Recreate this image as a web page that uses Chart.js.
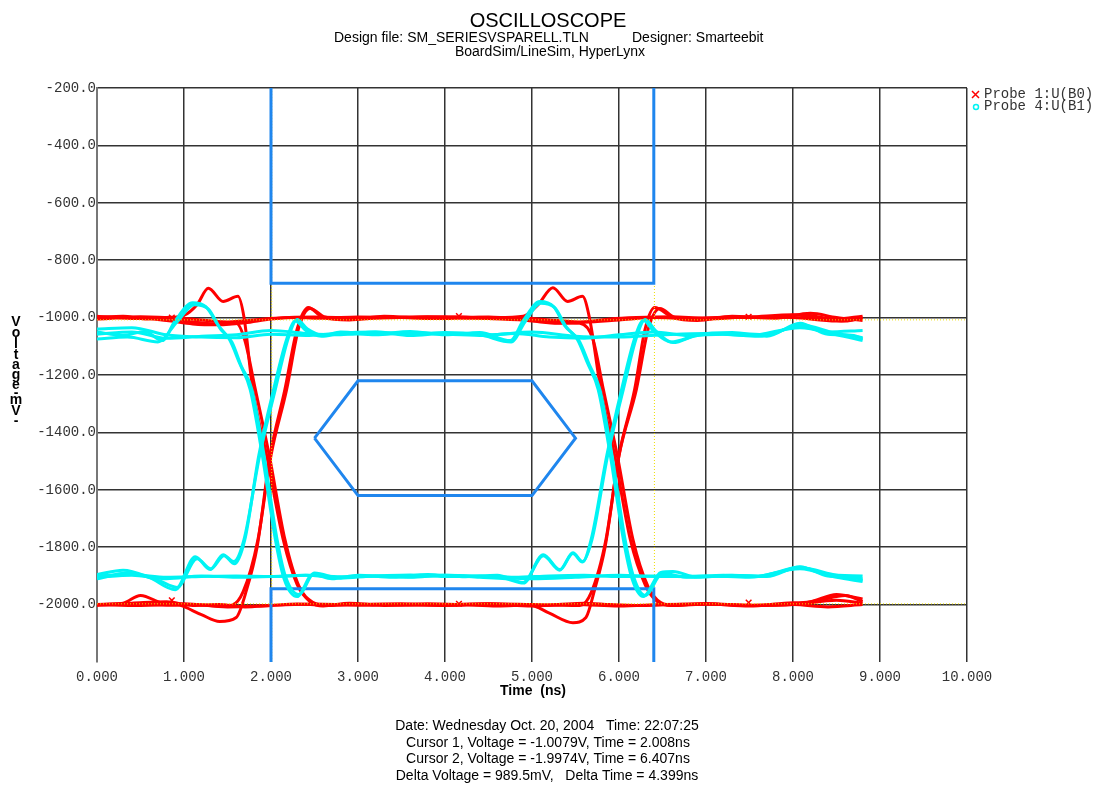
<!DOCTYPE html>
<html>
<head>
<meta charset="utf-8">
<title>Oscilloscope</title>
<script src="https://cdn.jsdelivr.net/npm/chart.js@4.4.1/dist/chart.umd.min.js"></script>
<style>
    html, body { margin: 0; padding: 0; background: #fff; }
    #wrap { width: 1095px; height: 785px; }
</style>
</head>
<body>
<div id="wrap"><canvas id="scope" width="1095" height="785"></canvas></div>
<script>
// ===== Axis ticks =====
const timeTicks = [0, 1, 2, 3, 4, 5, 6, 7, 8, 9, 10];
const voltTicks = [-2000, -1800, -1600, -1400, -1200, -1000, -800, -600, -400, -200];

// ===== Probe 1:U(B0) traces (red), time in ns / voltage in mV =====
const rA_t = [0, 0.3, 0.55, 0.8, 1.0, 1.15, 1.28, 1.45, 1.62, 1.69, 1.79, 1.95, 2.14, 2.3, 2.45, 2.6, 2.9, 3.3, 3.8, 4.2, 4.6, 4.98, 5.2, 5.47, 5.62, 5.72, 5.84, 6.0, 6.18, 6.3, 6.41, 6.62, 6.9, 7.3, 7.7, 8.1, 8.5, 8.8];
const rA_v = [-1000, -995, -1005, -1000, -992, -955, -898, -944, -926, -1000, -1250, -1480, -1773, -1930, -1990, -2005, -1995, -2003, -1997, -2000, -2005, -2002, -2030, -2063, -2045, -1948, -1800, -1480, -1250, -1040, -965, -1000, -1010, -995, -1000, -990, -1005, -995];

const rB_t = [0, 0.3, 0.5, 0.75, 0.95, 1.2, 1.41, 1.6, 1.72, 1.84, 1.99, 2.16, 2.3, 2.43, 2.6, 2.9, 3.3, 3.8, 4.16, 4.6, 4.9, 5.07, 5.24, 5.41, 5.58, 5.66, 5.79, 5.95, 6.13, 6.3, 6.45, 6.6, 7.0, 7.5, 7.9, 8.2, 8.5, 8.8];
const rB_v = [-2000, -1995, -1968, -1995, -2002, -2035, -2059, -2045, -1948, -1800, -1480, -1250, -1040, -965, -1000, -1008, -995, -1003, -998, -1000, -995, -955, -896, -944, -926, -1000, -1250, -1480, -1773, -1930, -1992, -2003, -1997, -2005, -1995, -1990, -1965, -1980];

const rLevelT = [0, 0.4, 0.8, 1.1, 1.4, 1.7, 2.0, 2.3, 2.6, 3.0, 3.5, 4.0, 4.5, 5.0, 5.3, 5.6, 5.9, 6.2, 6.6, 7.0, 7.5, 8.0, 8.3, 8.6, 8.8];
const rC_v = [-1005, -1000, -1010, -1022, -1025, -1018, -1005, -1000, -1002, -998, -1000, -1003, -998, -1012, -1020, -1015, -1005, -1000, -997, -1002, -998, -990, -1003, -1012, -1000];
const rD_v = [-2000, -1995, -1990, -2003, -2000, -2008, -2003, -1998, -2002, -2000, -1997, -2002, -2000, -2005, -2000, -1995, -2000, -2003, -2000, -1997, -2003, -2000, -1985, -1968, -1990];

const rE_t = [0, 0.4, 0.8, 1.1, 1.4, 1.6, 1.7, 1.82, 1.98, 2.16, 2.32, 2.48, 2.65, 3.0, 3.5, 4.0, 4.5, 5.0, 5.5, 6.0, 6.5, 7.0, 7.5, 8.0, 8.4, 8.8];
const rE_v = [-995, -1003, -1000, -1015, -1022, -1020, -1080, -1250, -1480, -1773, -1935, -1992, -2003, -1998, -2002, -2000, -1997, -2003, -2000, -2005, -2000, -1998, -2003, -2000, -2008, -2000];

const rF_t = [0, 0.4, 0.8, 1.1, 1.4, 1.55, 1.68, 1.85, 2.0, 2.18, 2.32, 2.45, 2.62, 2.9, 3.3, 3.8, 4.3, 4.8, 5.2, 5.6, 6.0, 6.4, 6.8, 7.3, 7.8, 8.2, 8.5, 8.8];
const rF_v = [-2003, -1998, -2002, -2000, -2005, -2002, -1955, -1773, -1480, -1250, -1035, -968, -998, -1006, -1000, -997, -1002, -1000, -1008, -1015, -1008, -1000, -1003, -998, -1002, -985, -1000, -1010];

const rG_t = [0, 0.5, 1.0, 1.5, 2.0, 2.5, 3.0, 3.5, 4.0, 4.5, 5.0, 5.3, 5.55, 5.7, 5.82, 5.98, 6.16, 6.33, 6.48, 6.65, 7.0, 7.5, 8.0, 8.5, 8.8];
const rG_v = [-1000, -997, -1003, -1015, -1003, -998, -1002, -1000, -997, -1003, -1010, -1018, -1020, -1075, -1250, -1480, -1773, -1935, -1993, -2003, -1998, -2002, -2000, -1985, -1995];

const rH_t = [0, 0.5, 1.0, 1.5, 2.0, 2.5, 3.0, 3.5, 4.0, 4.5, 5.0, 5.3, 5.55, 5.68, 5.85, 6.0, 6.2, 6.34, 6.47, 6.65, 7.0, 7.5, 8.0, 8.5, 8.8];
const rH_v = [-2000, -2003, -1997, -2008, -2003, -1998, -2002, -2000, -2003, -1997, -2000, -2002, -2003, -1958, -1773, -1480, -1250, -1035, -968, -1000, -1005, -998, -1000, -1012, -1003];

// red x markers on probe 1
const markT = [0.86, 0.86, 4.16, 4.16, 7.49, 7.49];
const markV = [-1000, -1985, -995, -1997, -997, -1993];

// ===== Probe 4:U(B1) traces (cyan) =====
const cA_t = [0, 0.3, 0.55, 0.75, 0.9, 1.1, 1.25, 1.4, 1.52, 1.64, 1.76, 1.9, 2.05, 2.15, 2.3, 2.48, 2.7, 3.0, 3.4, 3.8, 4.2, 4.6, 4.9, 5.13, 5.32, 5.47, 5.58, 5.69, 5.87, 6.05, 6.2, 6.3, 6.42, 6.62, 6.9, 7.3, 7.7, 8.08, 8.4, 8.7, 8.8];
const cA_v = [-1050, -1062, -1048, -1080, -1010, -948, -962, -1030, -1075, -1160, -1250, -1480, -1773, -1910, -1972, -1895, -1910, -1898, -1905, -1895, -1903, -1898, -1923, -1826, -1878, -1819, -1850, -1773, -1480, -1250, -1070, -1007, -1045, -1087, -1060, -1052, -1065, -1020, -1058, -1062, -1075];

const cB_t = [0, 0.3, 0.6, 0.9, 1.13, 1.3, 1.45, 1.57, 1.69, 1.87, 2.05, 2.2, 2.3, 2.42, 2.6, 2.8, 3.2, 3.6, 4.0, 4.4, 4.75, 4.9, 5.09, 5.25, 5.38, 5.52, 5.64, 5.76, 5.9, 6.05, 6.15, 6.28, 6.48, 6.62, 6.9, 7.3, 7.7, 8.08, 8.4, 8.7, 8.8];
const cB_v = [-1895, -1880, -1905, -1948, -1833, -1878, -1826, -1850, -1773, -1480, -1250, -1070, -1007, -1040, -1062, -1050, -1058, -1048, -1060, -1052, -1080, -1010, -944, -962, -1030, -1075, -1160, -1250, -1480, -1773, -1910, -1972, -1888, -1885, -1905, -1898, -1902, -1868, -1900, -1905, -1915];

const cLevelT = [0, 0.4, 0.8, 1.2, 1.6, 2.0, 2.4, 2.8, 3.2, 3.6, 4.0, 4.4, 4.8, 5.2, 5.6, 6.0, 6.4, 6.8, 7.2, 7.6, 8.08, 8.4, 8.8];
const cC_v = [-1040, -1035, -1060, -1068, -1070, -1058, -1062, -1055, -1060, -1052, -1058, -1062, -1055, -1068, -1072, -1060, -1050, -1062, -1058, -1065, -1030, -1050, -1045];
const cD_v = [-1900, -1895, -1905, -1902, -1900, -1902, -1898, -1903, -1900, -1897, -1902, -1900, -1905, -1900, -1898, -1902, -1900, -1903, -1898, -1900, -1870, -1895, -1900];

const cE_t = [0, 0.35, 0.7, 0.92, 1.12, 1.28, 1.42, 1.55, 1.66, 1.78, 1.92, 2.07, 2.17, 2.32, 2.5, 2.8, 3.2, 3.6, 4.0, 4.5, 5.0, 5.5, 6.0, 6.5, 7.0, 7.5, 8.08, 8.5, 8.8];
const cE_v = [-1075, -1068, -1085, -1015, -955, -970, -1040, -1085, -1170, -1250, -1480, -1773, -1905, -1965, -1890, -1908, -1900, -1905, -1898, -1903, -1910, -1905, -1898, -1902, -1900, -1905, -1875, -1905, -1920];

const cF_t = [0, 0.35, 0.7, 0.92, 1.15, 1.31, 1.46, 1.58, 1.7, 1.86, 2.03, 2.18, 2.28, 2.4, 2.58, 2.8, 3.2, 3.6, 4.0, 4.5, 5.0, 5.5, 6.0, 6.5, 7.0, 7.5, 8.08, 8.5, 8.8];
const cF_v = [-1910, -1890, -1915, -1940, -1840, -1875, -1830, -1858, -1773, -1480, -1250, -1075, -1012, -1045, -1065, -1055, -1050, -1062, -1055, -1060, -1050, -1065, -1068, -1060, -1055, -1062, -1035, -1060, -1080];

const cG_t = [0, 0.4, 0.8, 1.2, 1.6, 2.0, 2.4, 2.8, 3.2, 3.6, 4.0, 4.4, 4.76, 4.92, 5.1, 5.26, 5.4, 5.54, 5.66, 5.78, 5.92, 6.07, 6.17, 6.3, 6.5, 6.8, 7.2, 7.6, 8.08, 8.5, 8.8];
const cG_v = [-1058, -1050, -1072, -1065, -1060, -1045, -1055, -1060, -1050, -1058, -1052, -1060, -1085, -1015, -950, -965, -1035, -1080, -1165, -1250, -1480, -1773, -1905, -1968, -1892, -1905, -1900, -1902, -1872, -1898, -1910];

const cH_t = [0, 0.4, 0.8, 1.2, 1.6, 2.0, 2.4, 2.8, 3.2, 3.6, 4.0, 4.4, 4.7, 4.9, 5.13, 5.32, 5.47, 5.58, 5.68, 5.86, 6.03, 6.18, 6.28, 6.4, 6.6, 6.9, 7.3, 7.7, 8.08, 8.5, 8.8];
const cH_v = [-1905, -1898, -1910, -1900, -1905, -1902, -1898, -1905, -1900, -1903, -1898, -1905, -1910, -1925, -1830, -1880, -1822, -1852, -1773, -1480, -1250, -1072, -1010, -1048, -1085, -1062, -1055, -1060, -1025, -1055, -1070];

// ===== Eye mask (blue) =====
const maskTopT = [2.0, 2.0, 6.4, 6.4];
const maskTopV = [-200, -880, -880, -200];
const maskBotT = [2.0, 2.0, 6.4, 6.4];
const maskBotV = [-2200, -1945, -1945, -2200];
const hexT = [2.5, 3.0, 5.0, 5.5, 5.0, 3.0, 2.5];
const hexV = [-1420, -1220, -1220, -1420, -1620, -1620, -1420];

// ===== Cursors (yellow) =====
const cursorTimes = [2.008, 6.407];
const cursorVolts = [-1007.9, -1997.4];

const RED = '#ff0000';
const CYAN = '#00f4f4';
const BLUE = '#1f86ee';
const YELLOW = '#eedd00';

const trace = (times, volts) => times.map((t, i) => ({ x: t, y: volts[i] }));

function wave(times, volts, color, order) {
    return {
        data: trace(times, volts),
        borderColor: color,
        borderWidth: 3,
        pointRadius: 0,
        fill: false,
        cubicInterpolationMode: 'monotone',
        order: order
    };
}

function straight(times, volts, color, width, order, dash) {
    return {
        data: trace(times, volts),
        borderColor: color,
        borderWidth: width,
        borderDash: dash || [],
        pointRadius: 0,
        fill: false,
        tension: 0,
        order: order
    };
}

// lower order is drawn on top
const datasets = [
    wave(rA_t, rA_v, RED, 5),
    wave(rB_t, rB_v, RED, 5),
    wave(rLevelT, rC_v, RED, 5),
    wave(rLevelT, rD_v, RED, 5),
    wave(rE_t, rE_v, RED, 5),
    wave(rF_t, rF_v, RED, 5),
    wave(rG_t, rG_v, RED, 5),
    wave(rH_t, rH_v, RED, 5),
    straight(maskTopT, maskTopV, BLUE, 3, 3),
    straight(maskBotT, maskBotV, BLUE, 3, 3),
    straight(hexT, hexV, BLUE, 3, 3),
    wave(cA_t, cA_v, CYAN, 2),
    wave(cB_t, cB_v, CYAN, 2),
    wave(cLevelT, cC_v, CYAN, 2),
    wave(cLevelT, cD_v, CYAN, 2),
    wave(cE_t, cE_v, CYAN, 2),
    wave(cF_t, cF_v, CYAN, 2),
    wave(cG_t, cG_v, CYAN, 2),
    wave(cH_t, cH_v, CYAN, 2),
    {
        data: trace(markT, markV),
        showLine: false,
        pointStyle: 'crossRot',
        pointRadius: 4,
        pointBorderWidth: 1.5,
        pointBorderColor: RED,
        order: 1
    }
];

// cursor lines: verticals sit under the mask, horizontals over everything
cursorTimes.forEach(t => datasets.push(straight([t, t], [-2200, -200], YELLOW, 1, 4, [1, 2])));
cursorVolts.forEach(v => datasets.push(straight([0, 10], [v, v], YELLOW, 1, 0, [1, 2])));

// ===== Titles, legend, footer text =====
const scopeText = {
    id: 'scopeText',
    afterDraw(chart) {
        const ctx = chart.ctx;
        ctx.save();
        ctx.fillStyle = '#000';
        ctx.textBaseline = 'alphabetic';

        ctx.textAlign = 'center';
        ctx.font = '20px "Liberation Sans", Arial, sans-serif';
        ctx.fillText('OSCILLOSCOPE', 548, 27);

        ctx.font = '14px "Liberation Sans", Arial, sans-serif';
        ctx.textAlign = 'left';
        ctx.fillText('Design file: SM_SERIESVSPARELL.TLN', 334, 42);
        ctx.fillText('Designer: Smarteebit', 632, 42);
        ctx.textAlign = 'center';
        ctx.fillText('BoardSim/LineSim, HyperLynx', 550, 56);

        ctx.fillText('Date: Wednesday Oct. 20, 2004   Time: 22:07:25', 547, 730);
        ctx.fillText('Cursor 1, Voltage = -1.0079V, Time = 2.008ns', 548, 747);
        ctx.fillText('Cursor 2, Voltage = -1.9974V, Time = 6.407ns', 548, 763);
        ctx.fillText('Delta Voltage = 989.5mV,   Delta Time = 4.399ns', 547, 780);

        ctx.font = 'bold 14px "Liberation Sans", Arial, sans-serif';
        ctx.fillText('Time  (ns)', 533, 695);

        // stacked y axis title
        const letters = ['V', 'o', 'l', 't', 'a', 'g', 'e', '-', 'm', 'V', '-'];
        const rows = [322, 333, 344, 355, 365, 375, 385, 393, 400, 411, 421];
        ctx.font = 'bold 14px "Liberation Sans", Arial, sans-serif';
        ctx.textBaseline = 'middle';
        letters.forEach((ch, i) => ctx.fillText(ch, 16, rows[i]));

        // legend
        ctx.font = '14px "Liberation Mono", "Courier New", monospace';
        ctx.textAlign = 'left';
        ctx.fillStyle = '#333';
        ctx.fillText('Probe 1:U(B0)', 984, 94);
        ctx.fillText('Probe 4:U(B1)', 984, 106);

        ctx.strokeStyle = RED;
        ctx.lineWidth = 1.5;
        ctx.beginPath();
        ctx.moveTo(972, 91); ctx.lineTo(979, 98);
        ctx.moveTo(979, 91); ctx.lineTo(972, 98);
        ctx.stroke();

        ctx.strokeStyle = CYAN;
        ctx.beginPath();
        ctx.arc(976, 107, 2.5, 0, Math.PI * 2);
        ctx.stroke();
        ctx.restore();
    }
};

const gridColor = '#333';

new Chart(document.getElementById('scope'), {
    type: 'line',
    data: { datasets: datasets },
    options: {
        responsive: false,
        animation: false,
        layout: { padding: { left: 0, right: 128, top: 88, bottom: 0 } },
        plugins: {
            legend: { display: false },
            tooltip: { enabled: false },
            title: { display: false }
        },
        scales: {
            x: {
                type: 'linear',
                min: 0,
                max: 10,
                afterFit: (scale) => { scale.height = 123; },
                afterBuildTicks: (scale) => { scale.ticks = timeTicks.map(v => ({ value: v })); },
                grid: {
                    color: (c) => c.tick && c.tick.value === 0 ? 'rgba(0,0,0,0)' : gridColor,
                    lineWidth: 1.5,
                    drawTicks: false
                },
                border: { display: false },
                ticks: {
                    padding: 7,
                    color: '#333',
                    font: { family: '"Liberation Mono", "Courier New", monospace', size: 14 },
                    callback: (v) => Number(v).toFixed(3)
                }
            },
            y: {
                type: 'linear',
                min: -2200,
                max: -200,
                afterFit: (scale) => { scale.width = 97; },
                afterBuildTicks: (scale) => { scale.ticks = voltTicks.map(v => ({ value: v })); },
                grid: {
                    color: gridColor,
                    lineWidth: 1.5,
                    drawTicks: false
                },
                border: { display: true, color: '#777', width: 2 },
                ticks: {
                    padding: 1,
                    color: '#333',
                    font: { family: '"Liberation Mono", "Courier New", monospace', size: 14 },
                    callback: (v) => Number(v).toFixed(1)
                }
            }
        }
    },
    plugins: [scopeText]
});
</script>
</body>
</html>
